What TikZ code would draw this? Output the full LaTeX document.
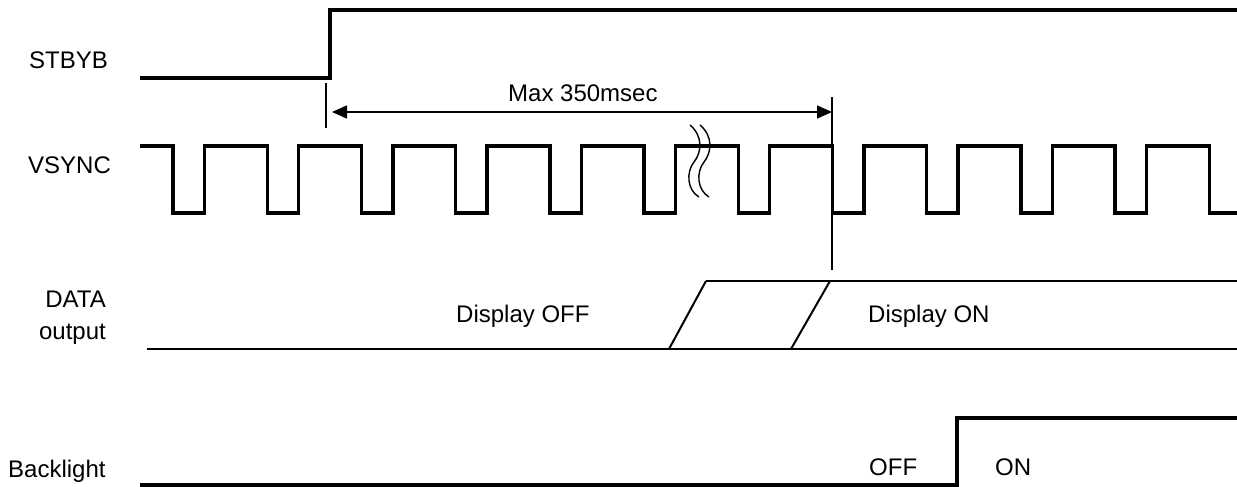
\documentclass[tikz,border=0pt]{standalone}
\usepackage{fontspec}
\setmainfont{Liberation Sans}
\usetikzlibrary{arrows.meta}
\begin{document}
\begin{tikzpicture}[x=1pt,y=-1pt,
  sig/.style={line width=3.4pt,line join=miter,line cap=rect},
  dat/.style={line width=2pt},
  thinl/.style={line width=1.4pt},
  lbl/.style={inner sep=0pt,anchor=base west,font=\fontsize{24}{28}\selectfont},
  lblr/.style={inner sep=0pt,anchor=base east,font=\fontsize{24}{28}\selectfont},
  dim/.style={line width=1.6pt,{Triangle[length=15pt,width=13pt]}-{Triangle[length=15pt,width=13pt]}}]
\useasboundingbox (0,0) rectangle (1237,487);
% labels
\node[lbl] (lstb) at (29,69) {STBYB};
\node[lbl] (lvs) at (28,173) {VSYNC};
\node[lblr] (ldata) at (106,307) {DATA};
\node[lblr] (lout) at (106,339) {output};
\node[lbl] (lbl) at (8,477) {Backlight};
% STBYB
\draw[sig] (142,78) -- (330,78) -- (330,10) -- (1240,10);
% VSYNC
\draw[sig] (142,146)
  foreach \k in {0,...,10} { -- ({173+94.2*\k},146) -- ({173+94.2*\k},213) -- ({204.5+94.2*\k},213) -- ({204.5+94.2*\k},146) }
  -- (1209.2,146) -- (1209.2,213) -- (1240,213);
% break mark
\draw[thinl] (690,125) .. controls (703,136) and (702,152) .. (694,162) .. controls (686,172) and (687,190) .. (699,197);
\draw[thinl] (700,125) .. controls (713,136) and (712,152) .. (704,162) .. controls (696,172) and (697,190) .. (709,197);
% markers
\coordinate (m1t) at (326,83);
\coordinate (m1b) at (326,128);
\coordinate (m2t) at (832,97);
\coordinate (m2b) at (832,270);
\draw[thinl] (m1t) -- (m1b);
\draw[thinl] (m2t) -- (m2b);
\coordinate (a1) at (332,112);
\coordinate (a2) at (832,112);
\draw[dim] (a1) -- (a2);
\node[lbl] (lmax) at (508,102) {Max 350msec};
% DATA output
\draw[dat] (147,349) -- (1237,349);
\draw[dat] (706,281) -- (1237,281);
\draw[dat] (669,349) -- (706,281);
\draw[dat] (791,349) -- (830,281);
\node[lbl] (loff) at (456,322) {Display OFF};
\node[lbl] (lon) at (868,322) {Display ON};
% Backlight
\draw[sig] (142,485) -- (957,485) -- (957,418) -- (1240,418);
\node[lbl] (lboff) at (869,475) {OFF};
\node[lbl] (lbon) at (995,475) {ON};
\end{tikzpicture}
\end{document}
